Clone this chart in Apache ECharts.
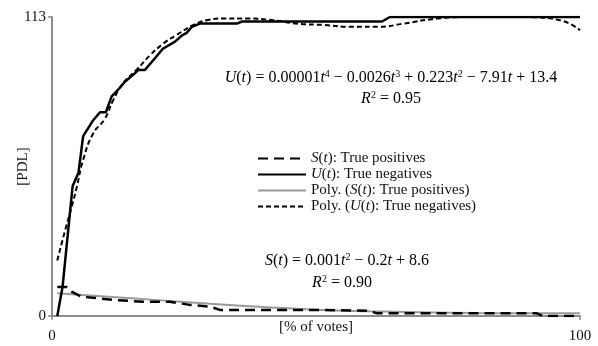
<!DOCTYPE html>
<html>
<head>
<meta charset="utf-8">
<script src="https://cdn.jsdelivr.net/npm/echarts@6/dist/echarts.min.js"></script>
<style>
  html, body { margin: 0; padding: 0; background: #fff; }
  #chart { width: 598px; height: 346px; }
</style>
</head>
<body>
<div id="chart"></div>
<script>
// U(t): true negatives
const uTimes  = [1, 2, 3.9, 5, 5.9, 7.8, 9.1, 10.2, 11.3, 12.5, 13.8, 15.7, 16.3, 17.6, 19.5, 21, 23.3, 24.6, 25.5, 26.5, 28, 35, 36, 62.5, 64, 100];
const uValues = [0, 11, 49, 54, 68, 74, 77, 77, 83, 85.5, 88.5, 91.7, 93, 93, 97.4, 101, 103.7, 106, 107, 109.3, 110.5, 110.5, 111.3, 111.3, 113, 113];

// S(t): true positives
const sTimes  = [1, 2.8, 3.7, 5.6, 12.3, 17.3, 22.3, 26.1, 30, 31.8, 50, 60.2, 61.5, 91.8, 93, 100];
const sValues = [11, 11, 9.2, 7.3, 6, 5.4, 5.4, 4.2, 3.5, 2.3, 2.3, 2, 1, 1, 0, 0];

// trend lines as drawn
const polySTimes  = [1, 10, 20, 30, 40, 50, 60, 70, 80, 90, 100];
const polySValues = [8.6, 7.4, 6.0, 4.6, 3.4, 2.4, 1.8, 1.4, 1.1, 1.0, 1.0];

const polyUTimes  = [1, 2.5, 3.7, 4.7, 5.9, 7.8, 10, 11.6, 13.5, 16, 18.6, 21.1, 23.6, 26.8, 29.3, 32.4, 36.9, 41.9, 46.3, 51.4, 57, 62, 66.5, 72.9, 78, 85, 90, 96.2, 100];
const polyUValues = [21, 32.5, 41, 48.8, 59, 69, 74.5, 81.6, 88, 93, 98.6, 103, 106.2, 110, 111.8, 112.4, 112.4, 111.8, 110.5, 110, 109.3, 109.3, 110.5, 112.4, 113, 113.2, 113, 111.8, 108];

const xTicks = [0, 100];
const yTicks = [0, 113];

const seriesNames = [
  'S(t): True positives',
  'U(t): True negatives',
  'Poly. (S(t): True positives)',
  'Poly. (U(t): True negatives)'
];

const FONT = "'Liberation Serif', 'DejaVu Serif', serif";

function pairs(xs, ys) {
  let out = [];
  for (let i = 0; i < xs.length; i++) {
    out.push([xs[i], ys[i]]);
  }
  return out;
}

function legendLabel(name) {
  switch (name) {
    case seriesNames[0]:
      return '{i|S}({i|t}): True positives';
    case seriesNames[1]:
      return '{i|U}({i|t}): True negatives';
    case seriesNames[2]:
      return 'Poly. ({i|S}({i|t}): True positives)';
    case seriesNames[3]:
      return 'Poly. ({i|U}({i|t}): True negatives)';
  }
  return name;
}

const rich = {
  i: { fontFamily: FONT, fontStyle: 'italic', fontSize: 16, color: '#111' },
  n: { fontFamily: FONT, fontSize: 16, color: '#111' },
  sup: { fontFamily: FONT, fontSize: 10, color: '#111', verticalAlign: 'top', padding: [0, 0, 7, 0] }
};

const legendRich = {
  i: { fontFamily: FONT, fontStyle: 'italic', fontSize: 15, color: '#111', lineHeight: 14 }
};

let chart = echarts.init(document.getElementById('chart'), null, { renderer: 'canvas' });

let option = {
  animation: false,
  backgroundColor: '#fff',
  grid: { left: 52, right: 18, top: 17, bottom: 30, containLabel: false, outerBoundsMode: 'none' },
  xAxis: {
    type: 'value',
    min: xTicks[0],
    max: xTicks[1],
    interval: xTicks[1] - xTicks[0],
    name: '[% of votes]',
    nameLocation: 'middle',
    nameGap: 4,
    nameMoveOverlap: false,
    nameTextStyle: { fontFamily: FONT, fontSize: 15, color: '#111', verticalAlign: 'top' },
    axisLine: { lineStyle: { color: '#8c8c8c', width: 2 } },
    axisTick: { show: true, length: 4, lineStyle: { color: '#8c8c8c', width: 1.5 } },
    axisLabel: { fontFamily: FONT, fontSize: 15, color: '#111', margin: 13 },
    splitLine: { show: false }
  },
  yAxis: {
    type: 'value',
    min: yTicks[0],
    max: yTicks[1],
    interval: yTicks[1] - yTicks[0],
    name: '[PDL]',
    nameLocation: 'middle',
    nameGap: 21,
    nameRotate: 90,
    nameMoveOverlap: false,
    nameTextStyle: { fontFamily: FONT, fontSize: 15, color: '#111' },
    axisLine: { show: true, lineStyle: { color: '#8c8c8c', width: 2 } },
    axisTick: { show: true, length: 4, lineStyle: { color: '#8c8c8c', width: 1.5 } },
    axisLabel: { fontFamily: FONT, fontSize: 15, color: '#111', margin: 6 },
    splitLine: { show: false }
  },
  legend: {
    orient: 'vertical',
    left: 252,
    top: 146,
    itemWidth: 48,
    itemHeight: 12,
    itemGap: 1,
    data: seriesNames,
    formatter: legendLabel,
    itemStyle: { opacity: 0 },
    textStyle: { fontFamily: FONT, fontSize: 15, color: '#111', lineHeight: 14, rich: legendRich }
  },
  series: [
    {
      name: seriesNames[0],
      type: 'line',
      data: pairs(sTimes, sValues),
      showSymbol: false,
      symbol: 'none',
      color: '#000',
      z: 4,
      lineStyle: { color: '#000', width: 2.5, type: [10, 6] }
    },
    {
      name: seriesNames[1],
      type: 'line',
      data: pairs(uTimes, uValues),
      showSymbol: false,
      symbol: 'none',
      color: '#000',
      z: 5,
      lineStyle: { color: '#000', width: 2.5 }
    },
    {
      name: seriesNames[2],
      type: 'line',
      data: pairs(polySTimes, polySValues),
      smooth: true,
      showSymbol: false,
      symbol: 'none',
      color: '#999',
      z: 3,
      lineStyle: { color: '#999', width: 2 }
    },
    {
      name: seriesNames[3],
      type: 'line',
      data: pairs(polyUTimes, polyUValues),
      smooth: true,
      showSymbol: false,
      symbol: 'none',
      color: '#000',
      z: 4,
      lineStyle: { color: '#000', width: 2, type: [5, 3] }
    }
  ],
  graphic: [
    {
      type: 'text',
      x: 391, y: 78,
      style: {
        text: '{i|U}{n|(}{i|t}{n|) = 0.00001}{i|t}{sup|4}{n| − 0.0026}{i|t}{sup|3}{n| + 0.223}{i|t}{sup|2}{n| − 7.91}{i|t}{n| + 13.4}',
        align: 'center', verticalAlign: 'middle',
        font: '16px ' + FONT,
        rich: rich
      }
    },
    {
      type: 'text',
      x: 391, y: 99,
      style: {
        text: '{i|R}{sup|2}{n| = 0.95}',
        align: 'center', verticalAlign: 'middle',
        font: '16px ' + FONT,
        rich: rich
      }
    },
    {
      type: 'text',
      x: 347, y: 261,
      style: {
        text: '{i|S}{n|(}{i|t}{n|) = 0.001}{i|t}{sup|2}{n| − 0.2}{i|t}{n| + 8.6}',
        align: 'center', verticalAlign: 'middle',
        font: '16px ' + FONT,
        rich: rich
      }
    },
    {
      type: 'text',
      x: 342, y: 283,
      style: {
        text: '{i|R}{sup|2}{n| = 0.90}',
        align: 'center', verticalAlign: 'middle',
        font: '16px ' + FONT,
        rich: rich
      }
    }
  ]
};

chart.setOption(option);
</script>
</body>
</html>
